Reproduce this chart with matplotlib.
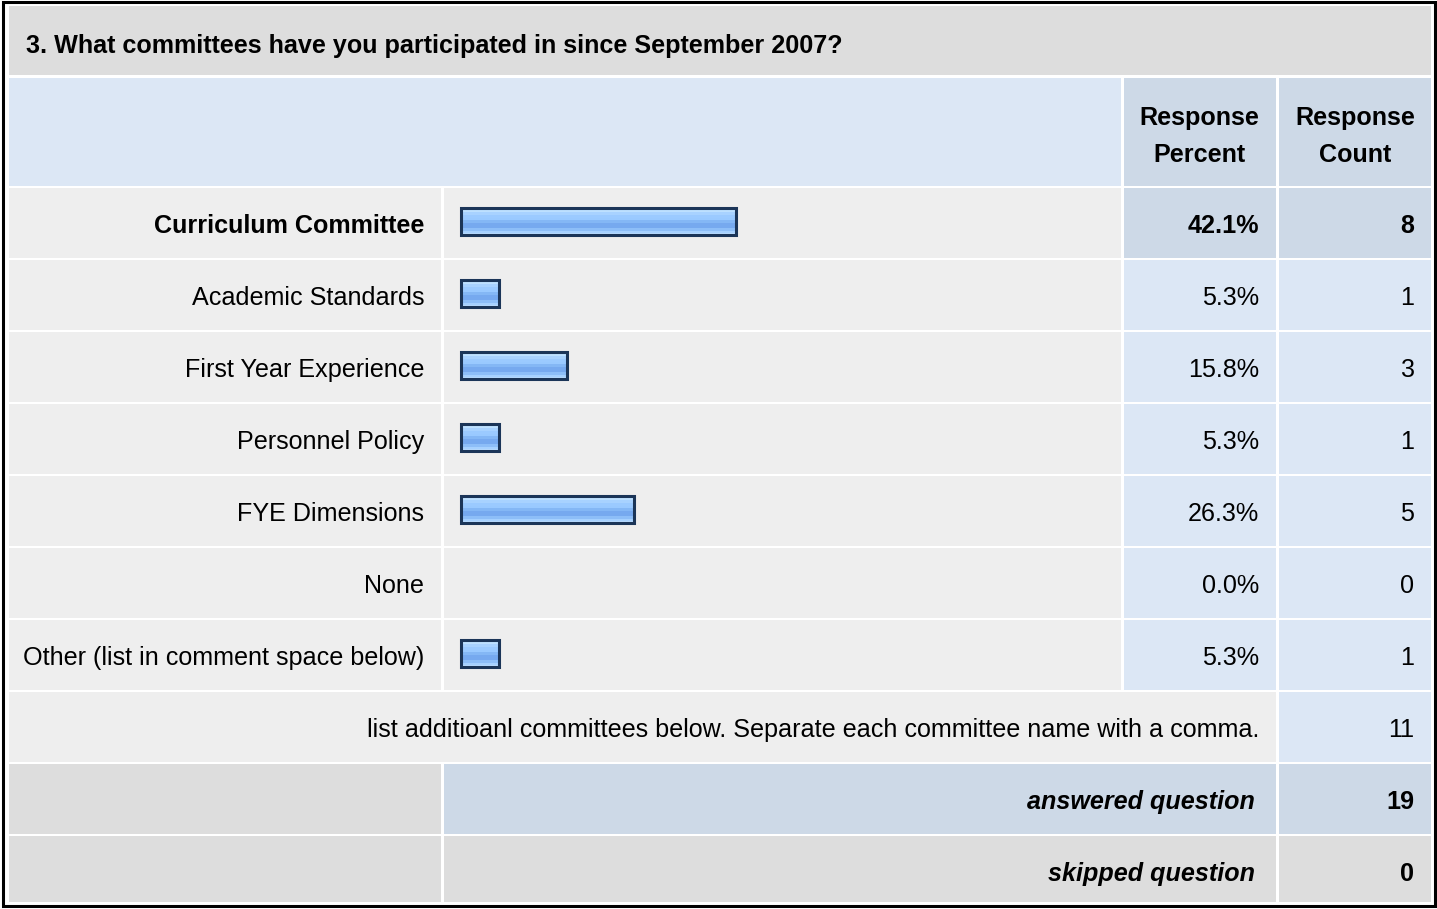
import numpy as np
from matplotlib import pyplot as plt
from matplotlib.patches import Rectangle
from matplotlib.colors import to_rgb

#%% Données du tableau
question = '3. What committees have you participated in since September 2007?'
categories = ['Curriculum Committee', 'Academic Standards', 'First Year Experience',
              'Personnel Policy', 'FYE Dimensions', 'None',
              'Other (list in comment space below)']
percents = [42.1, 5.3, 15.8, 5.3, 26.3, 0.0, 5.3]
counts = [8, 1, 3, 1, 5, 0, 1]
comment_text = 'list additioanl committees below. Separate each committee name with a comma.'
comment_count = 11
answered = 19
skipped = 0

#%% Mise en page (pixels)
W, H = 1437, 909
col_label = (9, 441)
col_bar = (444, 1121)
col_pct = (1124, 1276)
col_cnt = (1279, 1431)
row_top0 = 188
row_step = 72
row_h = 70
bar_x0 = 460
bar_h = 29
px_per_pct = 6.44
bar_pad = 6

GRIS = '#dddddd'
GRIS_CLAIR = '#eeeeee'
BLEU_CLAIR = '#dce7f5'
BLEU = '#cdd9e7'
FONT = 'Liberation Sans'
FS = 18.05
DY = 3  # décalage vertical du texte

fig = plt.figure(figsize=(W / 100, H / 100), dpi=100)
ax = fig.add_axes([0, 0, 1, 1])
ax.set_xlim(0, W)
ax.set_ylim(H, 0)
ax.axis('off')

def cell(x0, x1, y0, y1, color):
    ax.add_patch(Rectangle((x0, y0), x1 - x0, y1 - y0, facecolor=color,
                           edgecolor='none', zorder=1))

def txt(x, y, s, ha='right', weight='normal', style='normal', size=FS, ls=1.2):
    ax.text(x, y + DY, s, ha=ha, va='center', fontsize=size, fontweight=weight,
            fontstyle=style, family=FONT, color='#000000', zorder=5,
            linespacing=ls)

# bordure extérieure
ax.add_patch(Rectangle((3, 2), 1432, 904, facecolor='white', edgecolor='black',
                       lw=2.2, zorder=0))

# titre
cell(9, 1431, 6, 75, GRIS)
txt(26, 43.5, question, ha='left', weight='bold', size=18.1)

# en-tête
cell(9, 1121, 78, 186, BLEU_CLAIR)
cell(*col_pct, 78, 186, BLEU)
cell(*col_cnt, 78, 186, BLEU)
txt(sum(col_pct) / 2 - 1, 133.5, 'Response\nPercent', ha='center', weight='bold', ls=1.66)
txt(sum(col_cnt) / 2, 133.5, 'Response\nCount', ha='center', weight='bold', ls=1.66)

# dégradé des barres
stops = ['#d2e9ff', '#bde0ff', '#a8d2ff', '#9bcaff', '#99c9ff', '#84b7f5',
         '#76a9ef', '#76a9ef', '#8dbef8', '#a6d1ff', '#b8dbff']
grad = np.array([to_rgb(c) for c in stops])[:, None, :]

imax = int(np.argmax(percents))
for i, (lab, p, n) in enumerate(zip(categories, percents, counts)):
    y0 = row_top0 + i * row_step
    y1 = y0 + row_h
    yc = (y0 + y1) / 2
    hl = (i == imax)
    cell(*col_label, y0, y1, GRIS_CLAIR)
    cell(*col_bar, y0, y1, GRIS_CLAIR)
    cell(*col_pct, y0, y1, BLEU if hl else BLEU_CLAIR)
    cell(*col_cnt, y0, y1, BLEU if hl else BLEU_CLAIR)
    txt(424, yc, lab, weight='bold' if hl else 'normal')
    txt(1259, yc, '{:.1f}%'.format(p), weight='bold' if hl else 'normal')
    txt(1414, yc, str(n), weight='bold' if hl else 'normal')
    if p > 0:
        w = p * px_per_pct + bar_pad
        by0 = yc - 1.5 - bar_h / 2
        ax.imshow(grad, extent=(bar_x0, bar_x0 + w, by0 + bar_h, by0),
                  aspect='auto', interpolation='nearest', zorder=2)
        ax.add_patch(Rectangle((bar_x0 + 1, by0 + 1), w - 2, bar_h - 2,
                               facecolor='none', edgecolor='#1b3558',
                               lw=2.2, zorder=3))

# ligne des commentaires
y0 = row_top0 + len(categories) * row_step
cell(9, 1276, y0, y0 + row_h, GRIS_CLAIR)
cell(*col_cnt, y0, y0 + row_h, BLEU_CLAIR)
txt(1259, y0 + row_h / 2, comment_text)
txt(1414, y0 + row_h / 2, str(comment_count))

# réponses / sauts
y0 += row_step
cell(*col_label, y0, y0 + row_h, GRIS)
cell(444, 1276, y0, y0 + row_h, BLEU)
cell(*col_cnt, y0, y0 + row_h, BLEU)
txt(1255, y0 + row_h / 2, 'answered question', weight='bold', style='italic')
txt(1414, y0 + row_h / 2, str(answered), weight='bold')

y0 += row_step
cell(*col_label, y0, 902, GRIS)
cell(444, 1276, y0, 902, GRIS)
cell(*col_cnt, y0, 902, GRIS)
txt(1255, 871, 'skipped question', weight='bold', style='italic')
txt(1414, 871, str(skipped), weight='bold')

ax.set_xlim(0, W)
ax.set_ylim(H, 0)
fig.savefig('out.png', dpi=100)
